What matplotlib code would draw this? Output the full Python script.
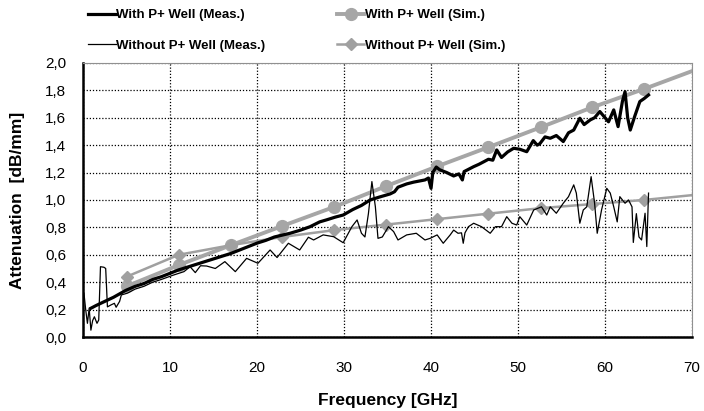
import numpy as np
import matplotlib
matplotlib.use("Agg")
from matplotlib import pyplot as plt
from matplotlib.ticker import FuncFormatter, MultipleLocator

plt.rcParams['font.family'] = ['Liberation Sans', 'DejaVu Sans']

# simulated points (last point at 70 GHz has no marker)
sim_x = [5, 11, 17, 22.9, 28.9, 34.8, 40.7, 46.6, 52.6, 58.5, 64.5, 70]
sim_with = [0.37, 0.525, 0.67, 0.81, 0.95, 1.10, 1.245, 1.385, 1.53, 1.675, 1.81, 1.94]
sim_without = [0.44, 0.60, 0.67, 0.73, 0.78, 0.82, 0.86, 0.90, 0.94, 0.97, 1.00, 1.035]

# measured with P+ well
meas_with_x = [0.9, 1.5, 2.5, 3.5, 4.9, 6, 7, 8, 9, 10, 11, 12, 13, 14, 15, 16, 17,
               18, 19, 20, 21, 22, 23, 23.8, 25, 26.1, 27.2, 28, 29, 29.9, 31, 32,
               33, 34, 35.3, 35.8, 36.2, 37.2, 38, 39.3, 39.7, 40.0, 40.2, 40.6,
               41, 41.8, 42.6, 43.2, 43.6, 43.8, 44.9, 45.5, 46.1, 46.6, 47.1,
               47.55, 48.1, 48.8, 49.5, 50.2, 51, 51.75, 52.2, 52.5, 53.1, 53.7,
               54.4, 55.2, 55.8, 56.4, 57.1, 57.6, 58.3, 58.8, 59.4, 60.0, 60.4,
               61, 61.5, 62.0, 62.3, 62.6, 62.9, 63.4, 64.0, 64.5, 65]
meas_with_y = [0.21, 0.23, 0.26, 0.29, 0.34, 0.37, 0.39, 0.42, 0.44, 0.465, 0.49,
               0.51, 0.53, 0.55, 0.57, 0.59, 0.61, 0.635, 0.66, 0.685, 0.705, 0.73,
               0.745, 0.757, 0.78, 0.805, 0.84, 0.855, 0.875, 0.89, 0.93, 0.96,
               1.0, 1.02, 1.044, 1.06, 1.093, 1.117, 1.13, 1.146, 1.16, 1.085,
               1.20, 1.24, 1.22, 1.2, 1.175, 1.19, 1.146, 1.207, 1.243, 1.26, 1.28,
               1.297, 1.29, 1.365, 1.31, 1.35, 1.377, 1.37, 1.352, 1.433, 1.40,
               1.41, 1.46, 1.45, 1.47, 1.426, 1.49, 1.51, 1.596, 1.55, 1.584, 1.6,
               1.645, 1.6, 1.57, 1.657, 1.535, 1.72, 1.79, 1.6, 1.51, 1.608, 1.718,
               1.74, 1.766]

# measured without P+ well
meas_without_x = [0.1, 0.3, 0.5, 0.7, 0.9, 1.1, 1.3, 1.6, 1.8, 2.0, 2.4, 2.6, 2.8,
                  3.2, 3.6, 3.8, 4.2, 4.4, 5.1, 6, 7, 8, 9, 10.3, 11.6, 12.3, 12.9,
                  13.5, 14.2, 15.2, 16.3, 17.5, 18.8, 20.1, 21.5, 22.3, 23.6, 24.9,
                  25.9, 26.5, 27.6, 28.8, 29.9, 30.9, 31.5, 32.0, 32.4, 32.8, 33.2,
                  33.6, 33.9, 34.4, 35.1, 35.7, 36.2, 37.2, 38.3, 39.3, 39.9, 40.7,
                  41.4, 42.2, 42.6, 43.1, 43.5, 43.7, 43.9, 44.3, 44.9, 45.8, 46.8,
                  47.4, 48.1, 48.7, 49.3, 49.85, 50.2, 51.0, 51.8, 52.7, 53.3, 53.7,
                  54.4, 55.2, 55.8, 56.4, 56.7, 57.1, 57.5, 57.9, 58.4, 58.8, 59.1,
                  59.6, 60.2, 60.6, 61.0, 61.4, 61.7, 62.3, 62.7, 63.1, 63.25, 63.6,
                  63.9, 64.2, 64.6, 64.8, 65.0]
meas_without_y = [0.32, 0.2, 0.10, 0.21, 0.05, 0.12, 0.148, 0.10, 0.124, 0.513,
                  0.509, 0.50, 0.22, 0.234, 0.246, 0.217, 0.26, 0.307, 0.32, 0.35,
                  0.37, 0.40, 0.42, 0.45, 0.477, 0.513, 0.47, 0.52, 0.518, 0.50,
                  0.55, 0.477, 0.574, 0.538, 0.635, 0.58, 0.684, 0.635, 0.728,
                  0.708, 0.745, 0.732, 0.688, 0.805, 0.854, 0.757, 0.73, 0.9, 1.134,
                  0.95, 0.72, 0.73, 0.805, 0.769, 0.708, 0.745, 0.757, 0.708, 0.72,
                  0.745, 0.684, 0.745, 0.78, 0.757, 0.76, 0.684, 0.76, 0.805, 0.83,
                  0.805, 0.757, 0.805, 0.805, 0.878, 0.83, 0.817, 0.878, 0.817,
                  0.927, 0.95, 0.89, 0.95, 0.903, 0.976, 1.024, 1.11, 1.05, 0.83,
                  0.927, 0.95, 1.17, 0.976, 0.757, 0.927, 1.085, 1.05, 0.95, 0.84,
                  1.024, 0.976, 1.0, 0.95, 0.69, 0.9, 0.73, 0.708, 0.903, 0.66, 1.05]

grey = '#a6a6a6'

fig = plt.figure(figsize=(7.04, 4.11), dpi=100)
ax = fig.add_axes([0.118, 0.180, 0.865, 0.667])

l3, = ax.plot(sim_x, sim_with, color=grey, lw=2.8, marker='o', ms=8.5,
              markevery=list(range(len(sim_x) - 1)), label='With P+ Well (Sim.)')
l4, = ax.plot(sim_x, sim_without, color='#a0a0a0', lw=1.8, marker='D', ms=6,
              markevery=list(range(len(sim_x) - 1)), label='Without P+ Well (Sim.)')
l1, = ax.plot(meas_with_x, meas_with_y, color='black', lw=2.3,
              label='With P+ Well (Meas.)')
l2, = ax.plot(meas_without_x, meas_without_y, color='black', lw=0.9,
              label='Without P+ Well (Meas.)')

ax.set_xlim(0, 70)
ax.set_ylim(0, 2.0)
ax.xaxis.set_major_locator(MultipleLocator(10))
ax.yaxis.set_major_locator(MultipleLocator(0.2))
ax.yaxis.set_major_formatter(FuncFormatter(lambda v, p: f"{v:.1f}".replace('.', ',')))
ax.grid(True, color='black', ls=(0, (1, 1.5)), lw=0.9)
ax.tick_params(length=0, labelsize=11)
ax.tick_params(axis='x', pad=17)
ax.tick_params(axis='y', pad=12)

for s in ['left', 'bottom']:
    ax.spines[s].set_linewidth(1.8)
for s in ['top', 'right']:
    ax.spines[s].set_color('#909090')
    ax.spines[s].set_linewidth(0.8)

ax.set_xlabel('Frequency [GHz]', fontsize=12.5, fontweight='bold', va='center')
ax.xaxis.set_label_coords(0.5, -0.23)
ax.set_ylabel('Attenuation  [dB/mm]', fontsize=12.5, fontweight='bold', va='center')
ax.yaxis.set_label_coords(-0.107, 0.5)

fig.legend(handles=[l1, l2, l3, l4], ncol=2, loc='upper left',
           bbox_to_anchor=(0.108, 1.007), frameon=False, borderpad=0.4,
           prop={'weight': 'bold', 'size': 9.5}, handlelength=2.1,
           handletextpad=0.05, labelspacing=1.39, columnspacing=5.4)

fig.savefig('out.png', dpi=100)
